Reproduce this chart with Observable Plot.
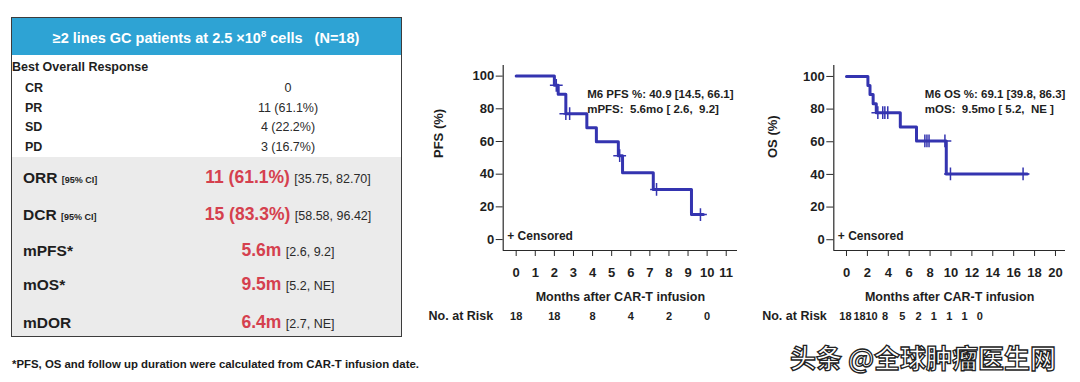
<!DOCTYPE html>
<html>
<head>
<meta charset="utf-8">
<script src="https://cdn.jsdelivr.net/npm/d3@7"></script>
<script src="https://cdn.jsdelivr.net/npm/@observablehq/plot@0.6"></script>
<style>
  html, body { margin: 0; padding: 0; background: #fff; }
  #wrap { position: relative; width: 1080px; height: 382px; overflow: hidden; background: #fff;
          font-family: "Liberation Sans", Arial, sans-serif; color: #1e1e1e; }
  .t { position: absolute; white-space: nowrap; line-height: 1; }
  .plot { position: absolute; top: 50px; }
</style>
</head>
<body>
<div id="wrap"></div>
<script>
// ---------- DATA ----------
const headerTitle = "≥2 lines GC patients at 2.5 ×10";
const headerSup = "8";
const headerTail = " cells \u00a0 (N=18)";
const borTitle = "Best Overall Response";
const borCategories = ["CR", "PR", "SD", "PD"];
const borValues = ["0", "11 (61.1%)", "4 (22.2%)", "3 (16.7%)"];
const summaryLabels = ["ORR", "DCR", "mPFS*", "mOS*", "mDOR"];
const summaryQualifiers = ["[95% CI]", "[95% CI]", "", "", ""];
const summaryValues = ["11 (61.1%)", "15 (83.3%)", "5.6m", "9.5m", "6.4m"];
const summaryIntervals = ["[35.75, 82.70]", "[58.58, 96.42]", "[2.6, 9.2]", "[5.2, NE]", "[2.7, NE]"];
const footnote = "*PFS, OS and follow up duration were calculated from CAR-T infusion date.";

// PFS Kaplan-Meier (months, %)
const pfsTimes = [0, 2.0, 2.2, 2.6, 3.7, 4.2, 5.35, 5.57, 7.18, 9.18, 9.8];
const pfsSurv  = [100, 94.4, 88.9, 77.0, 68.4, 59.9, 51.3, 40.9, 30.7, 15.3, 15.3];
const pfsCensorTimes = [2.1, 2.6, 2.8, 5.42, 7.35, 9.65];
const pfsCensorSurv  = [94.4, 77.0, 77.0, 51.3, 30.7, 15.3];
const pfsTicks = [0, 1, 2, 3, 4, 5, 6, 7, 8, 9, 10, 11];
const pfsRiskAt = [0, 2, 4, 6, 8, 10];
const pfsRiskN  = [18, 18, 8, 4, 2, 0];
const pfsNote = "M6 PFS %: 40.9 [14.5, 66.1]\nmPFS:  5.6mo [ 2.6,  9.2]";

// OS Kaplan-Meier (months, %)
const osTimes = [0, 2.05, 2.25, 2.55, 2.85, 5.15, 6.7, 9.55, 17.3];
const osSurv  = [100, 94.4, 88.9, 83.3, 77.8, 69.1, 60.5, 40.3, 40.3];
const osCensorTimes = [3.0, 3.47, 3.67, 3.95, 7.5, 7.7, 7.9, 9.42, 9.95, 16.9];
const osCensorSurv  = [77.8, 77.8, 77.8, 77.8, 60.5, 60.5, 60.5, 60.5, 40.3, 40.3];
const osTicks = [0, 2, 4, 6, 8, 10, 12, 14, 16, 18, 20];
const osRiskAt = [-0.1, 1.25, 2.4, 3.7, 5.35, 6.9, 8.35, 9.85, 11.3, 12.75];
const osRiskN  = [18, 18, 10, 8, 5, 2, 1, 1, 1, 0];
const osNote = "M6 OS %: 69.1 [39.8, 86.3]\nmOS:  9.5mo [ 5.2,  NE ]";

const watermark = "头条 @全球肿瘤医生网";

// ---------- STYLE / LAYOUT ----------
const BLUE = "#3434b0";
const RED = "#d5404e";
const HEADER = "#2ea3d4";
const GREY = "#ebebeb";
const AXIS = "#2a2a2a";

const wrap = document.getElementById("wrap");
function box(x, y, w, h, css) {
  const d = document.createElement("div");
  d.style.cssText = `position:absolute;left:${x}px;top:${y}px;width:${w}px;height:${h}px;box-sizing:border-box;${css}`;
  wrap.appendChild(d);
  return d;
}
function label(html, x, y, css, anchor = "start") {
  const d = document.createElement("div");
  d.className = "t";
  const tx = anchor === "middle" ? "-50%" : anchor === "end" ? "-100%" : "0";
  d.style.cssText = `left:${x}px;top:${y}px;transform:translate(${tx},-50%);${css}`;
  d.innerHTML = html;
  wrap.appendChild(d);
  return d;
}

// ---------- TABLE ----------
box(12, 18, 389, 37, `background:${HEADER}`);
box(12, 157, 389, 179, `background:${GREY}`);
box(11, 17, 391, 320, "border:1.5px solid #3c3c3c");
label(`${headerTitle}<sup style="font-size:9.5px;vertical-align:6px">${headerSup}</sup>${headerTail}`,
      206, 37, "color:#fff;font-weight:bold;font-size:14.5px", "middle");
label(borTitle, 12, 67, "font-weight:bold;font-size:12.5px");
const borY = [88, 107.5, 127, 147];
borCategories.forEach((c, i) => {
  label(c, 25, borY[i], "font-weight:bold;font-size:12.5px");
  label(borValues[i], 288, borY[i], "font-size:12.5px;color:#2a2a2a", "middle");
});
const sumY = [178, 215, 251, 285, 323];
summaryLabels.forEach((c, i) => {
  const q = summaryQualifiers[i]
    ? ` <span style="font-size:9px;font-weight:bold">${summaryQualifiers[i]}</span>` : "";
  label(`${c}${q}`, 23, sumY[i], "font-weight:bold;font-size:15.5px;color:#1e1e1e");
  label(`<span style="color:${RED};font-weight:bold;font-size:17.5px">${summaryValues[i]}</span>` +
        ` <span style="font-size:12.5px;color:#2a2a2a">${summaryIntervals[i]}</span>`,
        288, sumY[i], "", "middle");
});
label(footnote, 12, 365, "font-weight:bold;font-size:11.4px;color:#1a1a1a");

// ---------- KM PLOTS ----------
function kmPlot(o) {
  const curve = o.times.map((t, i) => ({t, s: o.surv[i]}));
  const cens = o.censT.map((t, i) => ({t, s: o.censS[i]}));
  const risk = o.riskAt.map((t, i) => ({t, n: o.riskN[i]}));
  return Plot.plot({
    width: o.width, height: 290,
    marginLeft: o.marginLeft, marginRight: o.marginRight, marginTop: 15, marginBottom: 90,
    x: {domain: o.xDomain},
    y: {domain: o.yDomain},
    style: {fontFamily: "'Liberation Sans', Arial, sans-serif", fontWeight: "bold",
            color: "#1e1e1e", background: "transparent", overflow: "visible"},
    marks: [
      Plot.ruleX([o.xDomain[0]], {stroke: AXIS, strokeWidth: 1.2}),
      Plot.ruleY([o.yDomain[0]], {stroke: AXIS, strokeWidth: 1.2}),
      Plot.axisY({ticks: [0, 20, 40, 60, 80, 100], tickSize: 7, tickPadding: 2, fontSize: 13,
                  fontWeight: "bold", label: null, stroke: AXIS}),
      Plot.axisX({ticks: o.xTicks, tickSize: 6, tickPadding: 11, fontSize: 13,
                  fontWeight: "bold", label: null, stroke: AXIS}),
      Plot.text([o.yLabel], {frameAnchor: "left", dx: o.yLabelDx, rotate: -90, fontSize: 13, fontWeight: "bold"}),
      Plot.text(["Months after CAR-T infusion"], {frameAnchor: "bottom", dy: 50, fontSize: 12.5, fontWeight: "bold"}),
      Plot.text(["No. at Risk"], {frameAnchor: "bottom-left", dx: o.riskLabelDx, dy: 69, textAnchor: "end",
                                   fontSize: 12.5, fontWeight: "bold"}),
      Plot.text(risk, {x: "t", text: "n", frameAnchor: "bottom", dy: 69, fontSize: 11, fontWeight: "bold"}),
      Plot.text(["+ Censored"], {frameAnchor: "bottom-left", dx: 4, dy: -11, textAnchor: "start",
                                  fontSize: 12, fontWeight: "bold"}),
      Plot.text([o.note], {frameAnchor: "top-left", dx: o.noteDx, dy: 21.5, textAnchor: "start",
                           lineHeight: 1.3, fontSize: 11.5, fontWeight: "bold"}),
      Plot.line(curve, {x: "t", y: "s", curve: "step-after", stroke: BLUE, strokeWidth: 3}),
      Plot.dot(cens, {x: "t", y: "s", symbol: "plus", r: 4.2, stroke: BLUE, strokeWidth: 1.5})
    ]
  });
}

const pfsPlot = kmPlot({
  times: pfsTimes, surv: pfsSurv, censT: pfsCensorTimes, censS: pfsCensorSurv,
  xDomain: [-0.68, 11.59], yDomain: [-6.7, 106.5], xTicks: pfsTicks,
  riskAt: pfsRiskAt, riskN: pfsRiskN, yLabel: "PFS (%)", note: pfsNote,
  width: 320, marginLeft: 72.7, marginRight: 13, yLabelDx: -64, riskLabelDx: -10, noteDx: 84
});
pfsPlot.classList.add("plot");
pfsPlot.style.left = "430px";
wrap.appendChild(pfsPlot);

const osPlot = kmPlot({
  times: osTimes, surv: osSurv, censT: osCensorTimes, censS: osCensorSurv,
  xDomain: [-1.215, 20.96], yDomain: [-6.6, 106.7], xTicks: osTicks,
  riskAt: osRiskAt, riskN: osRiskN, yLabel: "OS (%)", note: osNote,
  width: 320, marginLeft: 73.3, marginRight: 15, yLabelDx: -61, riskLabelDx: -7, noteDx: 91
});
osPlot.classList.add("plot");
osPlot.style.left = "760px";
wrap.appendChild(osPlot);

// watermark
label(watermark, 790, 357,
  "font-family:'Noto Sans CJK SC',sans-serif;font-weight:bold;font-size:26px;color:#fff;-webkit-text-stroke:1.3px #222");
</script>
</body>
</html>
